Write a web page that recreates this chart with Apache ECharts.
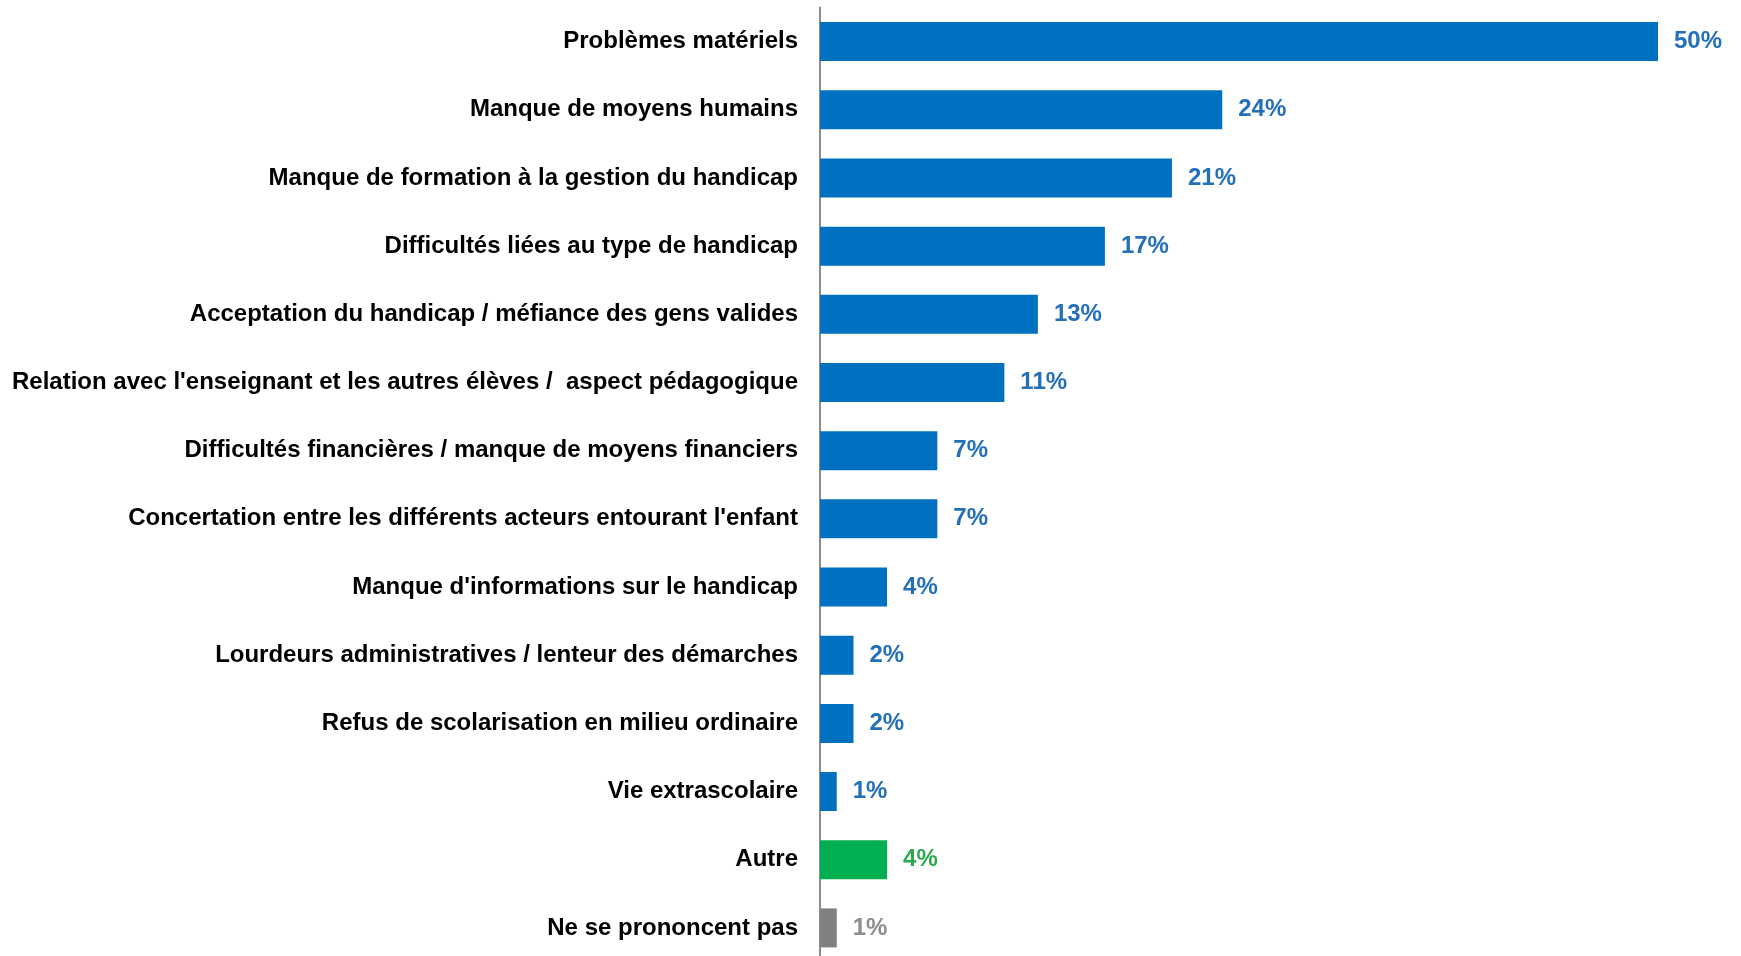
<!DOCTYPE html>
<html>
<head>
<meta charset="utf-8">
<script src="https://cdn.jsdelivr.net/npm/echarts@6/dist/echarts.min.js"></script>
<style>
html,body{margin:0;padding:0;background:#fff;}
#c{width:1741px;height:956px;}
</style>
</head>
<body>
<div id="c"></div>
<script>
const categories = [
  "Problèmes matériels",
  "Manque de moyens humains",
  "Manque de formation à la gestion du handicap",
  "Difficultés liées au type de handicap",
  "Acceptation du handicap / méfiance des gens valides",
  "Relation avec l'enseignant et les autres élèves /  aspect pédagogique",
  "Difficultés financières / manque de moyens financiers",
  "Concertation entre les différents acteurs entourant l'enfant",
  "Manque d'informations sur le handicap",
  "Lourdeurs administratives / lenteur des démarches",
  "Refus de scolarisation en milieu ordinaire",
  "Vie extrascolaire",
  "Autre",
  "Ne se prononcent pas"
];
const values = [50, 24, 21, 17, 13, 11, 7, 7, 4, 2, 2, 1, 4, 1];
const barColors = ["#0070C0","#0070C0","#0070C0","#0070C0","#0070C0","#0070C0","#0070C0","#0070C0","#0070C0","#0070C0","#0070C0","#0070C0","#00B050","#808080"];
const labelColors = ["#2470B8","#2470B8","#2470B8","#2470B8","#2470B8","#2470B8","#2470B8","#2470B8","#2470B8","#2470B8","#2470B8","#2470B8","#2EA84F","#8C8C8C"];

const font = "'Liberation Sans', Arial, sans-serif";
const chart = echarts.init(document.getElementById('c'), null, {renderer: 'canvas'});
chart.setOption({
  animation: false,
  backgroundColor: '#ffffff',
  grid: {left: 820, right: 83, top: 7.5, bottom: -6, containLabel: false, outerBoundsMode: 'none'},
  xAxis: {
    type: 'value', min: 0, max: 50,
    show: false,
    splitLine: {show: false}
  },
  yAxis: {
    type: 'category',
    data: categories,
    inverse: true,
    axisLine: {show: true, lineStyle: {color: '#8C8C8C', width: 2}},
    axisTick: {show: false},
    axisLabel: {
      margin: 22,
      color: '#000000',
      fontFamily: font,
      fontWeight: 'bold',
      fontSize: 24,
      padding: [4, 0, 0, 0]
    }
  },
  series: [{
    type: 'bar',
    barWidth: 39,
    data: values.map((v, i) => ({
      value: v,
      itemStyle: {color: barColors[i]},
      label: {color: labelColors[i]}
    })),
    label: {
      show: true,
      position: 'right',
      distance: 16,
      formatter: '{c}%',
      fontFamily: font,
      fontWeight: 'bold',
      fontSize: 24,
      padding: [4, 0, 0, 0]
    }
  }]
});
</script>
</body>
</html>
